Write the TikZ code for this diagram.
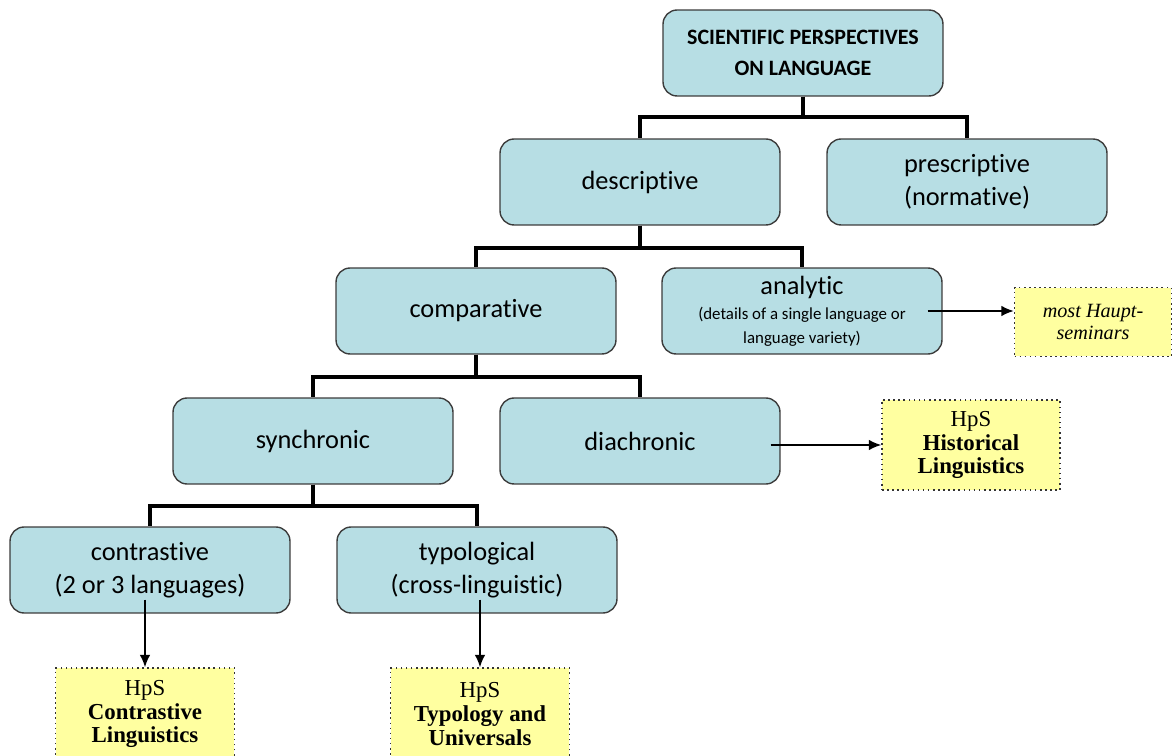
\documentclass[tikz,border=0pt]{standalone}
\usepackage{fontspec}
\setmainfont{Carlito}[Ligatures=NoCommon]
\newfontfamily\hpsfont{Liberation Serif}
\usepackage{xcolor}
\usepackage{tikz}
\usetikzlibrary{positioning,arrows.meta}

\definecolor{boxblue}{RGB}{183,222,228}
\definecolor{boxyellow}{RGB}{255,255,160}
\definecolor{boxline}{RGB}{60,60,60}

\newcommand{\smalldetail}{\fontsize{9.6}{13}\selectfont}

\begin{document}
\begin{tikzpicture}[x=0.02cm,y=-0.02cm,>={Latex[length=7pt,width=6pt]},
    persp/.style={draw=boxline,line width=0.8pt,fill=boxblue,rounded corners=8pt,
      minimum width=5.6cm,minimum height=1.72cm,inner sep=0pt,align=center,
      font=\fontsize{15}{18.5}\selectfont},
    hps/.style={draw=black!80,dotted,line width=0.9pt,fill=boxyellow,inner sep=0pt,
      align=center,font=\hpsfont\fontsize{13}{13.5}\selectfont},
    tree/.style={line width=2.3pt},
    ref/.style={->,line width=0.9pt}]

    \useasboundingbox (0,0) rectangle (1173,756);
    \clip (0,0) rectangle (1173,756);

    % The boxes
    \node [persp,font=\bfseries\fontsize{12.5}{17.6}\selectfont] at (803,53) (SP) {SCIENTIFIC PERSPECTIVES\\ON LANGUAGE};
    \node [persp] at (640,182) (desc) {descriptive};
    \node [persp] at (967,182) (presc) {prescriptive\\(normative)};

    \node [persp] at (476,311) (comp) {comparative};
    \node [persp] at (802,311) (anal) {analytic\\[-4pt]{\smalldetail(details of a single language or}\\[-5pt]{\smalldetail language variety)}};
    \node [hps,font=\hpsfont\itshape\fontsize{11.5}{13}\selectfont,minimum width=3.14cm,minimum height=1.38cm] at (1093,322) (haupt) {most Haupt-\\seminars};

    \node [persp] at (313,441) (sync) {synchronic};
    \node [persp] at (640,441) (diac) {diachronic};
    \node [hps,minimum width=3.56cm,minimum height=1.8cm] at (971,445) (hist) {HpS\\\textbf{Historical}\\\textbf{Linguistics}};

    \node [persp] at (150,570) (contr) {contrastive\\(2 or 3 languages)};
    \node [persp] at (477,570) (typo) {typological\\(cross-linguistic)};
    \node [hps,minimum width=3.58cm,minimum height=1.84cm] at (145,714) (hpscon) {HpS\\\textbf{Contrastive}\\\textbf{Linguistics}};
    \node [hps,minimum width=3.58cm,minimum height=1.84cm] at (480,714) (hpstyp) {HpS\\\textbf{Typology and}\\\textbf{Universals}};

    % Tree lines
    \draw [tree] (SP.south) -- ++(0,20) -| (desc);
    \draw [tree] (SP.south) -- ++(0,20) -| (presc);
    \draw [tree] (desc.south) -- ++(0,22) -| (comp);
    \draw [tree] (desc.south) -- ++(0,22) -| (anal);
    \draw [tree] (comp.south) -- ++(0,22) -| (sync);
    \draw [tree] (comp.south) -- ++(0,22) -| (diac);
    \draw [tree] (sync.south) -- ++(0,21) -| (contr);
    \draw [tree] (sync.south) -- ++(0,21) -| (typo);

    % Seminar arrows
    \draw [ref] ([xshift=-0.3cm]anal.east) -- (anal.east -| haupt.west);
    \draw [ref] ([xshift=-0.2cm]diac.east |- hist.west) -- (hist.west);
    \draw [ref] ([yshift=0.28cm]contr.south -| hpscon.north) -- (hpscon.north);
    \draw [ref] ([yshift=0.28cm]typo.south -| hpstyp.north) -- (hpstyp.north);

\end{tikzpicture}
\end{document}
